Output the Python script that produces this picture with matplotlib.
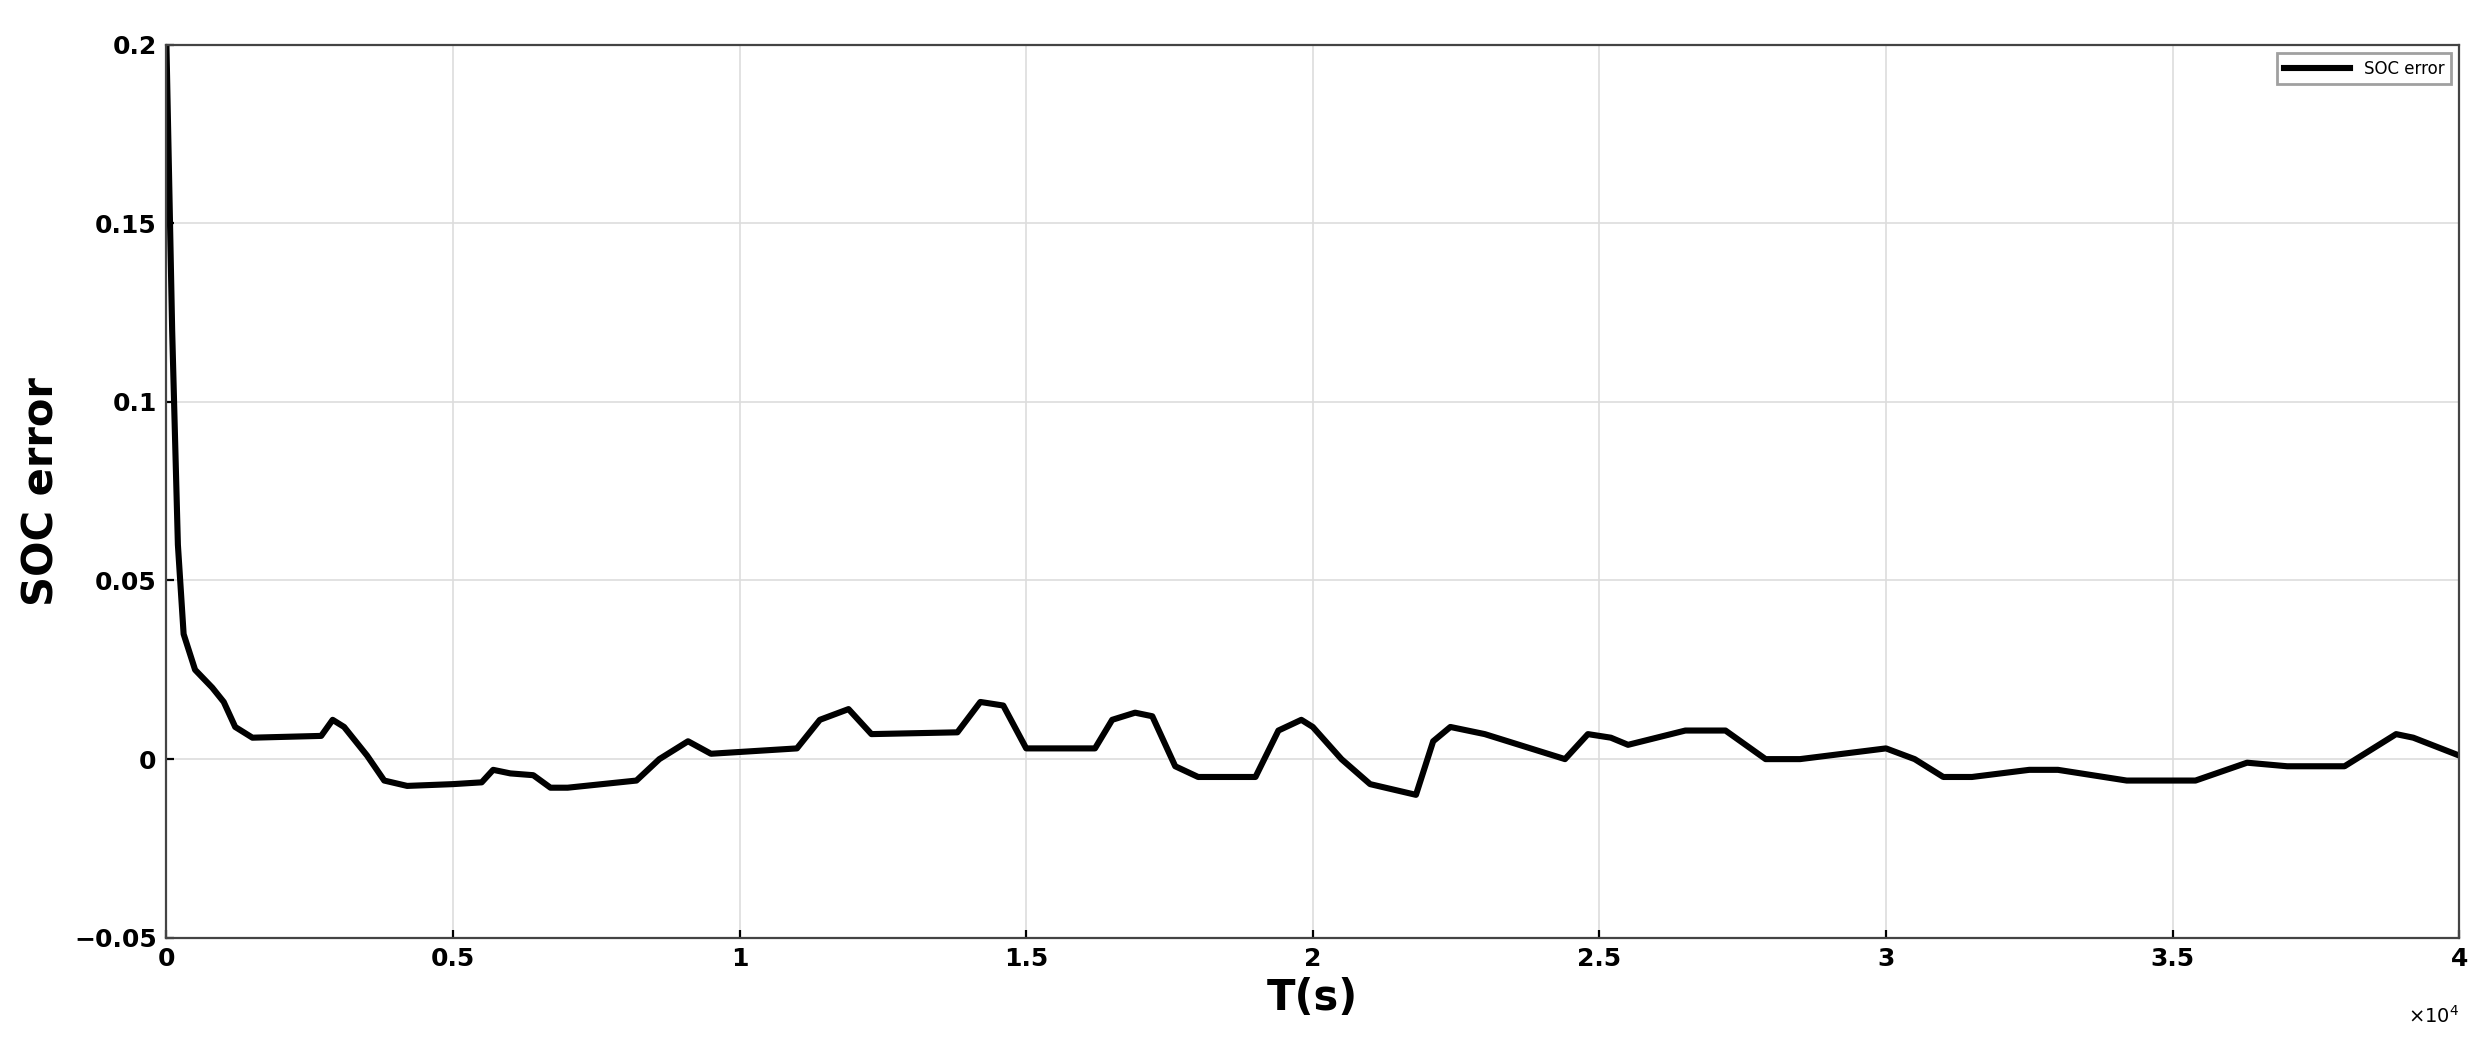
import matplotlib.pyplot as plt

t = [0, 100, 200, 300, 500, 800, 1000, 1200, 1500, 2700, 2900, 3100, 3500, 3800,
     4200, 5000, 5500, 5700, 6000, 6400, 6700, 7000, 8200, 8600, 9100, 9500,
     10000, 11000, 11400, 11900, 12300, 13800, 14200, 14600, 15000, 16200, 16500,
     16900, 17200, 17600, 18000, 19000, 19400, 19800, 20000, 20500, 21000, 21800,
     22100, 22400, 23000, 23800, 24400, 24800, 25200, 25500, 26500, 27200, 27900,
     28500, 30000, 30500, 31000, 31500, 32500, 33000, 34200, 35400, 36300, 37000,
     38000, 38900, 39200, 40000]
soc_err = [0.2, 0.12, 0.06, 0.035, 0.025, 0.02, 0.016, 0.009, 0.006, 0.0065, 0.011,
           0.009, 0.001, -0.006, -0.0075, -0.007, -0.0065, -0.003, -0.004, -0.0045,
           -0.008, -0.008, -0.006, 0.0, 0.005, 0.0015, 0.002, 0.003, 0.011, 0.014,
           0.007, 0.0075, 0.016, 0.015, 0.003, 0.003, 0.011, 0.013, 0.012, -0.002,
           -0.005, -0.005, 0.008, 0.011, 0.009, 0.0, -0.007, -0.010, 0.005, 0.009,
           0.007, 0.003, 0.0, 0.007, 0.006, 0.004, 0.008, 0.008, 0.0, 0.0, 0.003,
           0.0, -0.005, -0.005, -0.003, -0.003, -0.006, -0.006, -0.001, -0.002,
           -0.002, 0.007, 0.006, 0.001]

fig = plt.figure(figsize=(12.42, 5.31), dpi=200)
ax = fig.add_axes([0.067, 0.117, 0.923, 0.841])
ax.plot(t, soc_err, color="black", linewidth=2.2, label="SOC error")
ax.set_xlim(0, 40000)
ax.set_ylim(-0.05, 0.2)
ax.set_xticks([0, 5000, 10000, 15000, 20000, 25000, 30000, 35000, 40000])
ax.set_xticklabels(["0", "0.5", "1", "1.5", "2", "2.5", "3", "3.5", "4"])
ax.set_yticks([-0.05, 0, 0.05, 0.1, 0.15, 0.2])
ax.set_yticklabels(["\u22120.05", "0", "0.05", "0.1", "0.15", "0.2"])
ax.grid(True, color="#dddddd", linewidth=0.6)
ax.tick_params(labelsize=9, direction="in", length=3)
for lbl in ax.get_xticklabels() + ax.get_yticklabels():
    lbl.set_fontweight("bold")
ax.text(1.0, -0.075, r"$\times10^4$", transform=ax.transAxes, ha="right", va="top", fontsize=7)
ax.set_xlabel("T(s)", fontsize=15, fontweight="bold", labelpad=2)
ax.set_ylabel("SOC error", fontsize=15, fontweight="bold", labelpad=4)
ax.legend(loc="upper right", fontsize=6, fancybox=False, edgecolor="#888888", handlelength=4)
for s in ax.spines.values():
    s.set_color("#444444")
fig.savefig("out.png", dpi=200)
